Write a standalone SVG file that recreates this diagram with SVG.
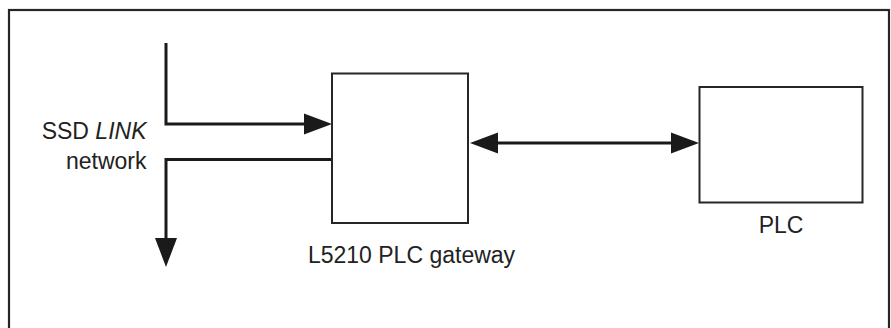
<svg xmlns="http://www.w3.org/2000/svg" width="891" height="328" viewBox="0 0 891 328">
  <style>
    .frame { fill: none; stroke: #262626; stroke-width: 2.2; }
    .box { fill: #ffffff; stroke: #262626; stroke-width: 2; }
    .wire { fill: none; stroke: #1a1a1a; stroke-width: 3; }
    .head { fill: #1a1a1a; stroke: none; }
    .label { font-family: "Liberation Sans", Arial, sans-serif; font-size: 23px; fill: #222222; }
  </style>
  <rect width="891" height="328" fill="#ffffff"/>
  <rect class="frame" x="9" y="10" width="880" height="340"/>

  <g id="connectors">
    <polyline class="wire" points="166,43 166,124 306,124"/>
    <polygon class="head" points="332,124 304,113.5 304,134.5"/>
    <polyline class="wire" points="332,159.5 166,159.5 166,240"/>
    <polygon class="head" points="166,267 155,238 177,238"/>
    <line class="wire" x1="496" y1="143" x2="675" y2="143"/>
    <polygon class="head" points="470,143 498,132.5 498,153.5"/>
    <polygon class="head" points="699,143 671,132.5 671,153.5"/>
  </g>

  <g id="gateway">
    <rect class="box" x="332" y="73.5" width="136" height="149.5"/>
    <text class="label" x="411.5" y="263" text-anchor="middle">L5210 PLC gateway</text>
  </g>

  <g id="plc">
    <rect class="box" x="699.5" y="87" width="163" height="115.5"/>
    <text class="label" x="781" y="233" text-anchor="middle">PLC</text>
  </g>

  <g id="network-label">
    <text class="label" x="146.5" y="138.5" text-anchor="end">SSD <tspan font-style="italic">LINK</tspan></text>
    <text class="label" x="146.5" y="168.5" text-anchor="end">network</text>
  </g>
</svg>
